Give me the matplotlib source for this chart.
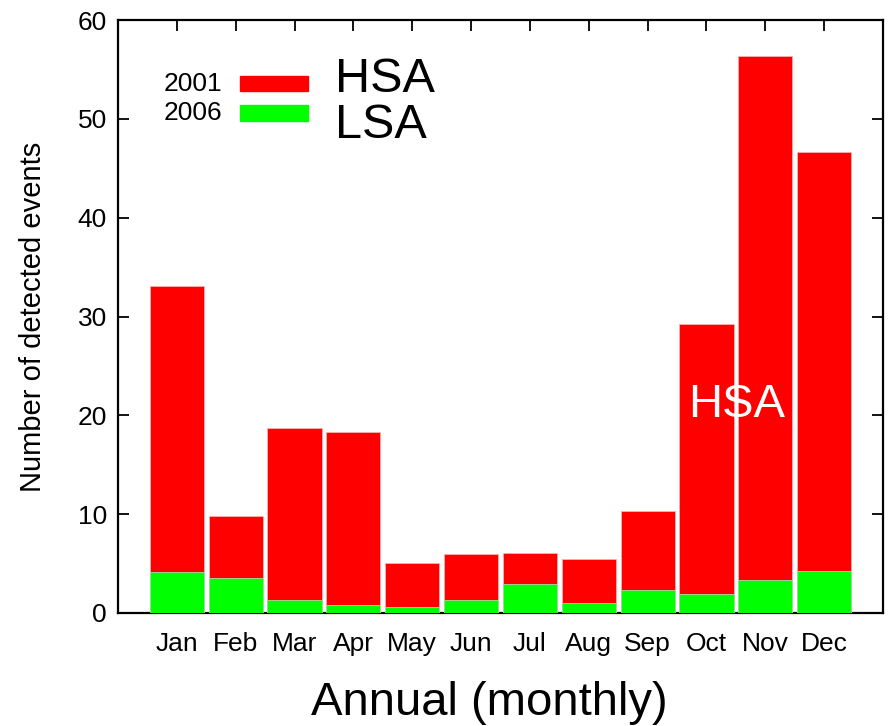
import matplotlib
matplotlib.use("Agg")
import matplotlib.pyplot as plt
from matplotlib.patches import Rectangle

months = ["Jan", "Feb", "Mar", "Apr", "May", "Jun", "Jul", "Aug", "Sep", "Oct", "Nov", "Dec"]
hsa_2001 = [33.1, 9.8, 18.7, 18.3, 5.06, 5.93, 6.1, 5.46, 10.3, 29.2, 56.36, 46.6]
lsa_2006 = [4.18, 3.58, 1.28, 0.77, 0.57, 1.28, 2.9, 0.98, 2.29, 1.89, 3.3, 4.28]
yticks = [0, 10, 20, 30, 40, 50, 60]

narrow = ["Liberation Sans Narrow", "Liberation Sans", "DejaVu Sans"]
regular = ["Liberation Sans", "DejaVu Sans"]

W, H = 888, 726
fig = plt.figure(figsize=(W / 100, H / 100), dpi=100)
ax = fig.add_axes([118 / W, 1 - 613 / H, (883 - 118) / W, (613 - 20) / H])

x = list(range(1, 13))
red = "#ff0000"
green = "#00ff00"
ax.bar(x, hsa_2001, width=0.92, color=red, edgecolor="#ffb0b0", linewidth=0.6, zorder=2)
ax.bar(x, lsa_2006, width=0.92, color=green, edgecolor="#9fdf9f", linewidth=0.6, zorder=3)

ax.set_xlim(0, 13)
ax.set_ylim(0, 60)
ax.set_xticks(x)
ax.set_xticklabels(months, fontfamily=narrow, fontsize=19)
ax.set_yticks(yticks)
ax.set_yticklabels([str(v) for v in yticks], fontfamily=narrow, fontsize=19)
ax.tick_params(direction="in", length=8, width=1.3, top=True, right=True, pad=8)
ax.tick_params(axis="x", pad=14)
for s in ax.spines.values():
    s.set_linewidth(1.6)

ax.set_xlabel("Annual (monthly)", fontfamily=regular, fontsize=34, labelpad=18)
ax.xaxis.label.set_x(0.486)
ax.set_ylabel("Number of detected events", fontfamily=regular, fontsize=21, labelpad=22)

ax.text(10.51, 21.0, "HSA", color="white", fontfamily=regular, fontsize=34,
        ha="center", va="center", zorder=5)

# legend
def fx(px):
    return px / W

def fy(py):
    return 1 - py / H

fig.patches.append(Rectangle((fx(240), fy(91)), fx(308) - fx(240), fy(76) - fy(91),
                             transform=fig.transFigure, color=red, zorder=5))
fig.patches.append(Rectangle((fx(240), fy(121)), fx(308) - fx(240), fy(105) - fy(121),
                             transform=fig.transFigure, color=green, zorder=5))
fig.text(fx(222), fy(84), "2001", fontfamily=narrow, fontsize=19, ha="right", va="center")
fig.text(fx(222), fy(113), "2006", fontfamily=narrow, fontsize=19, ha="right", va="center")
fig.text(fx(335), fy(80), "HSA", fontfamily=regular, fontsize=35, ha="left", va="center")
fig.text(fx(335), fy(126), "LSA", fontfamily=regular, fontsize=35, ha="left", va="center")

fig.savefig("out.png", dpi=100)
